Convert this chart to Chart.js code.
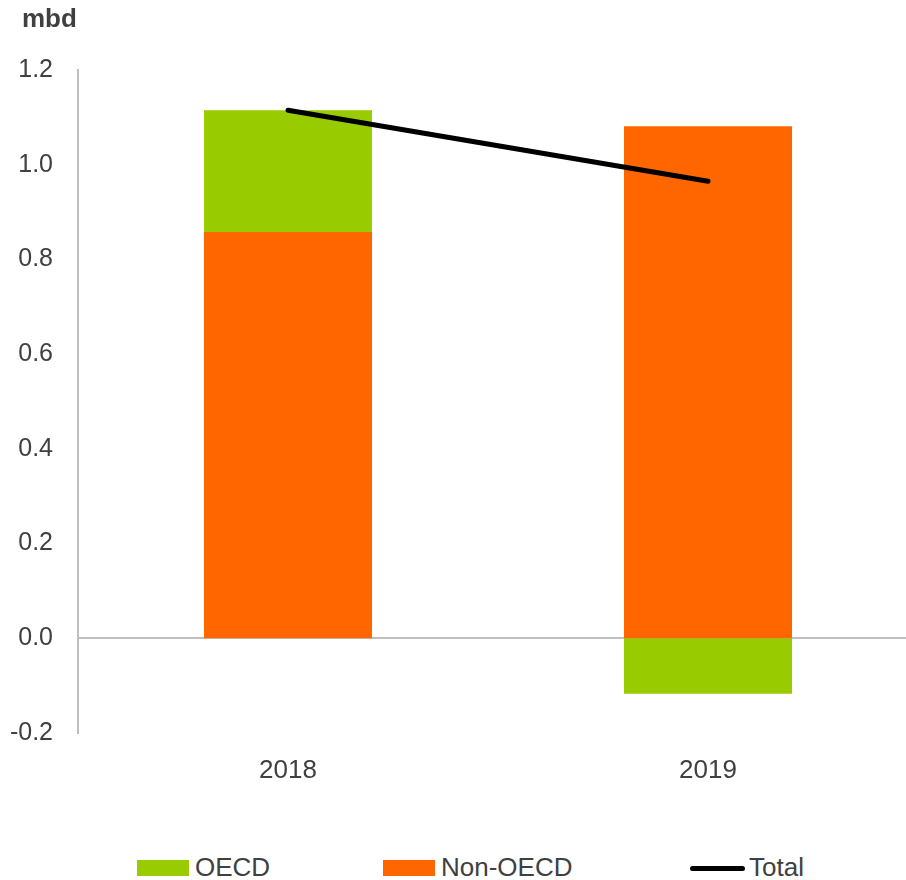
<!DOCTYPE html>
<html>
<head>
    <title>Oil demand growth by region</title>
    <script src="https://cdn.jsdelivr.net/npm/chart.js@4.4.0/dist/chart.umd.min.js"></script>
    <style>
        body {
            margin: 0;
            overflow: hidden;
            background-color: white;
            font-family: "Liberation Sans", Arial, sans-serif;
        }
        .wrapper {
            position: relative;
            width: 918px;
            height: 880px;
        }
        .chart-box {
            position: absolute;
            left: 0;
            top: 0;
            width: 918px;
            height: 792px;
        }
        .unit {
            position: absolute;
            left: 22px;
            top: 3px;
            font-size: 26px;
            font-weight: bold;
            line-height: 30px;
            color: #404040;
        }
        .legend-item {
            position: absolute;
            top: 852px;
            font-size: 26px;
            line-height: 30px;
            color: #404040;
            white-space: nowrap;
        }
        .swatch {
            display: inline-block;
            width: 52px;
            height: 16px;
            margin-right: 6px;
        }
        .swatch-line {
            display: inline-block;
            width: 55px;
            height: 5px;
            border-radius: 3px;
            background-color: #000;
            margin-right: 4px;
            vertical-align: 5px;
        }
    </style>
</head>
<body>
    <div class="wrapper">
        <div class="chart-box">
            <canvas id="myChart"></canvas>
        </div>
        <div class="unit">mbd</div>
        <div class="legend-item" style="left: 137px;"><span class="swatch" style="background-color: #99cc00;"></span>OECD</div>
        <div class="legend-item" style="left: 383px;"><span class="swatch" style="background-color: #ff6600;"></span>Non-OECD</div>
        <div class="legend-item" style="left: 690px;"><span class="swatch-line"></span>Total</div>
    </div>

    <script>
        // data (mbd)
        const years = ['2018', '2019'];
        const oecd = [0.257, -0.117];
        const nonOecd = [0.858, 1.081];
        const total = [1.115, 0.965];

        const yMin = -0.2;
        const yMax = 1.2;
        const yStep = 0.2;

        const textColor = '#404040';
        const axisColor = '#bfbfbf';
        const fontFamily = '"Liberation Sans", Arial, sans-serif';

        const ctx = document.getElementById('myChart').getContext('2d');
        const chart = new Chart(ctx, {
            type: 'bar',
            data: {
                labels: years,
                datasets: [
                    {
                        type: 'line',
                        label: 'Total',
                        data: total,
                        stack: 'total',
                        borderColor: '#000000',
                        borderWidth: 5,
                        borderCapStyle: 'round',
                        pointRadius: 0,
                        tension: 0,
                        order: 0
                    },
                    {
                        label: 'Non-OECD',
                        data: nonOecd,
                        backgroundColor: '#ff6600',
                        borderWidth: 0,
                        barPercentage: 0.4,
                        categoryPercentage: 1.0,
                        order: 1
                    },
                    {
                        label: 'OECD',
                        data: oecd,
                        backgroundColor: '#99cc00',
                        borderWidth: 0,
                        barPercentage: 0.4,
                        categoryPercentage: 1.0,
                        order: 1
                    }
                ]
            },
            options: {
                responsive: true,
                maintainAspectRatio: false,
                animation: false,
                layout: {
                    padding: { left: 0, right: 0, top: 70, bottom: 0 }
                },
                plugins: {
                    legend: { display: false },
                    tooltip: { enabled: false }
                },
                scales: {
                    x: {
                        stacked: true,
                        grid: { display: false },
                        border: { display: false },
                        ticks: {
                            color: textColor,
                            font: { family: fontFamily, size: 26 },
                            padding: 14
                        },
                        afterFit: function(scale) {
                            scale.height = 59;
                        }
                    },
                    y: {
                        stacked: true,
                        min: yMin,
                        max: yMax,
                        z: 1,
                        ticks: {
                            stepSize: yStep,
                            padding: 25,
                            color: textColor,
                            font: { family: fontFamily, size: 25 },
                            callback: function(value) {
                                // avoid "-0.0" from float rounding
                                if (Math.abs(value) < 1e-6) {
                                    return '0.0';
                                }
                                return value.toFixed(1);
                            }
                        },
                        grid: {
                            drawTicks: false,
                            lineWidth: 2,
                            color: function(context) {
                                // only the zero line is drawn
                                return Math.abs(context.tick.value) < 1e-6 ? axisColor : 'transparent';
                            }
                        },
                        border: { color: axisColor, width: 2 },
                        afterFit: function(scale) {
                            scale.width = 78;
                        }
                    }
                }
            }
        });
    </script>
</body>
</html>
